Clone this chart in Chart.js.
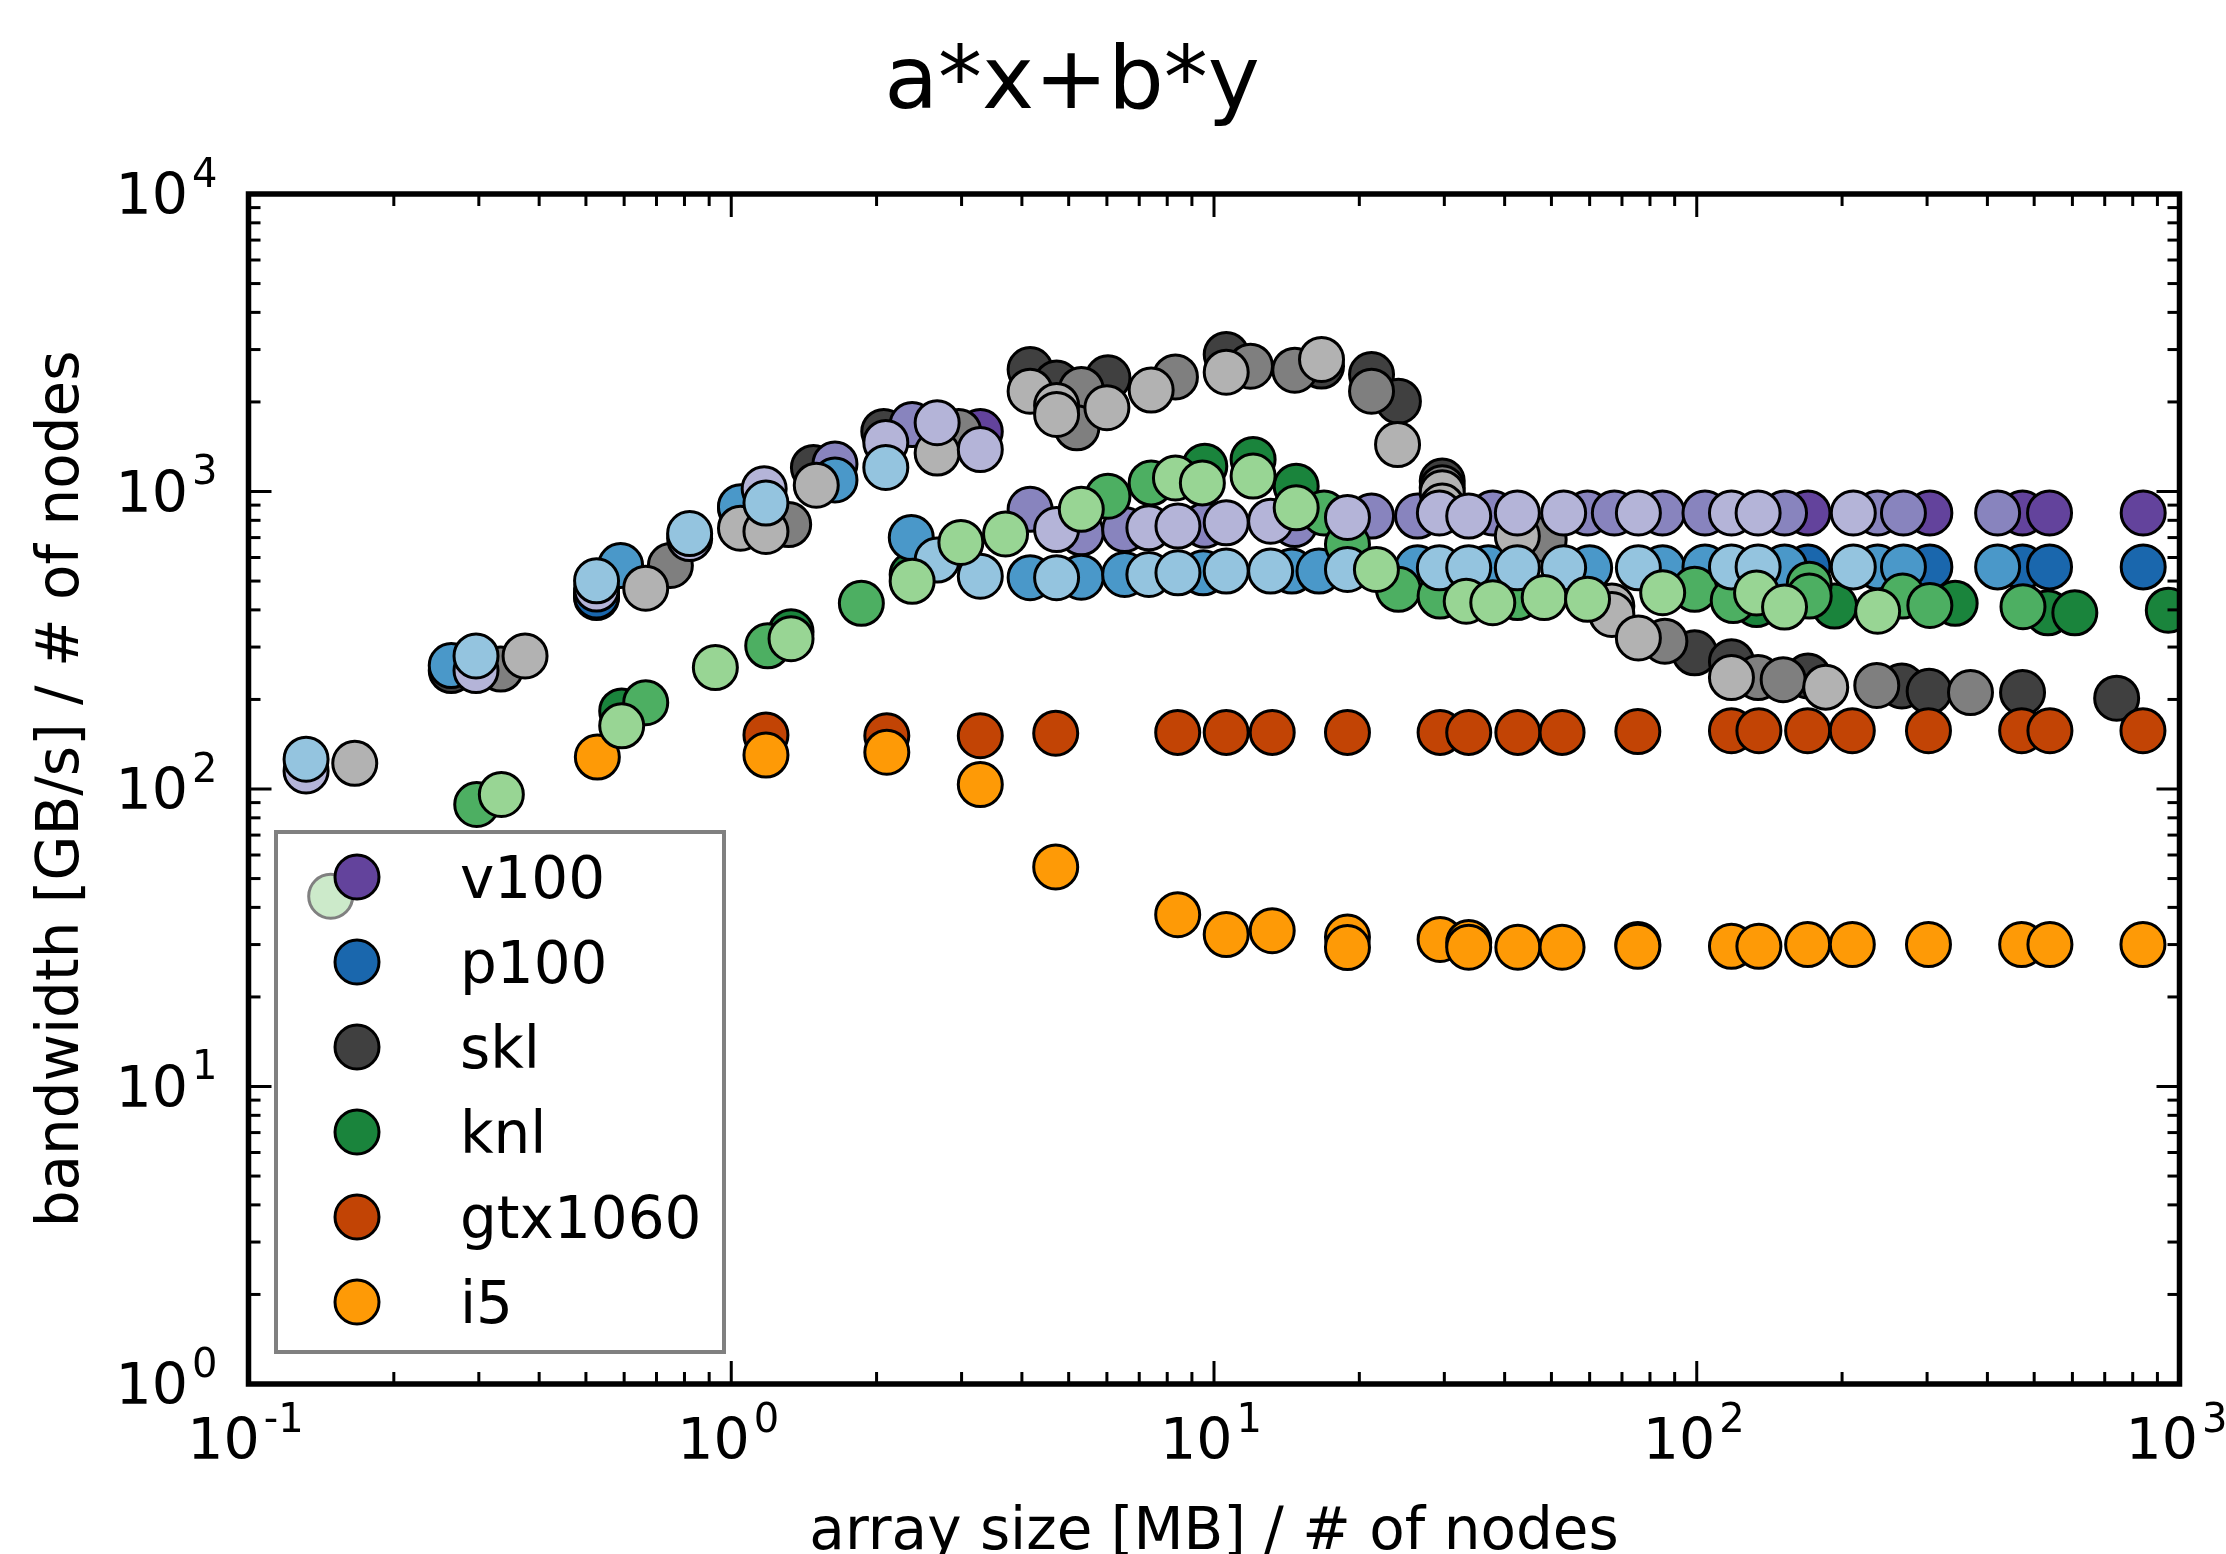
<!DOCTYPE html>
<html>
<head>
<meta charset="utf-8">
<script src="https://cdn.jsdelivr.net/npm/chart.js@4.4.1/dist/chart.umd.min.js"></script>
<style>
  html, body { margin: 0; padding: 0; background: #fff; }
  canvas { display: block; }
</style>
</head>
<body>
<canvas id="chart" width="2226" height="1554"></canvas>
<script>
// values: x = array size [MB] / # of nodes, y = bandwidth [GB/s] / # of nodes
const devices = ['v100', 'p100', 'skl', 'knl', 'gtx1060', 'i5'];
const xTickExps = [-1, 0, 1, 2, 3];
const yTickExps = [0, 1, 2, 3, 4];

const v100DarkX = [0.526, 3.28, 170, 304, 473, 538, 841];
const v100DarkY = [455, 1590, 847, 847, 847, 847, 847];
const v100MedX = [1.045, 1.64, 2.37, 4.16, 5.31, 6.53, 9.57, 14.7, 21.2, 26.4, 37.8, 59.4, 67.5, 84.9, 104, 152, 237, 268, 420];
const v100MedY = [880, 1238, 1679, 871, 726, 745, 770, 774, 827, 827, 847, 847, 847, 847, 847, 847, 847, 847, 847];
const v100LightX = [0.1316, 0.296, 0.526, 0.82, 1.17, 2.09, 2.67, 3.28, 4.72, 7.33, 8.42, 10.6, 13.1, 18.9, 29.3, 33.7, 42.5, 53.0, 75.7, 118, 134, 211];
const v100LightY = [115, 250, 470, 695, 1021, 1462, 1703, 1384, 745, 755, 765, 785, 795, 818, 847, 827, 847, 847, 847, 847, 847, 847];

const p100DarkX = [0.526, 170, 304, 473, 538, 841];
const p100DarkY = [445, 558, 558, 558, 558, 558];
const p100MedX = [0.263, 0.59, 1.045, 1.64, 2.36, 4.16, 5.31, 6.53, 9.5, 14.5, 16.5, 26.4, 37, 60, 85, 104, 152, 237, 268, 420];
const p100MedY = [260, 564, 889, 1094, 700, 513, 515, 526, 533, 540, 540, 554, 554, 554, 554, 558, 558, 558, 558, 558];
const p100LightX = [0.1316, 0.296, 0.526, 0.82, 1.18, 2.09, 2.67, 3.28, 4.72, 7.33, 8.42, 10.6, 13.1, 18.9, 29.3, 33.7, 42.5, 53, 75.7, 118, 134, 211];
const p100LightY = [126, 280, 501, 722, 914, 1205, 588, 519, 513, 526, 533, 540, 540, 547, 554, 554, 554, 554, 554, 558, 558, 558];

const sklDarkX = [0.263, 0.526, 1.48, 2.07, 4.16, 4.72, 6.03, 10.6, 16.7, 21.2, 24.1, 29.7, 42.5, 99, 118, 170, 266, 303, 473, 741];
const sklDarkY = [250, 440, 1205, 1592, 2570, 2317, 2411, 2889, 2640, 2472, 2012, 1084, 766, 287, 268, 240, 222, 213, 211, 202];
const sklMedX = [0.333, 0.748, 1.315, 2.96, 5.31, 5.2, 8.32, 11.9, 14.7, 21.2, 29.7, 48.3, 85.9, 134, 151, 236, 369];
const sklMedY = [253, 564, 774, 1592, 2203, 1637, 2428, 2637, 2557, 2173, 1030, 690, 314, 237, 233, 223, 211];
const sklLightX = [0.166, 0.374, 0.665, 1.045, 1.18, 1.50, 2.67, 4.16, 4.72, 4.72, 6.0, 7.41, 10.6, 16.7, 24.0, 29.7, 29.7, 42.5, 66.7, 66.7, 75.7, 118, 185];
const sklLightY = [122, 280, 473, 753, 734, 1050, 1346, 2173, 1946, 1816, 1912, 2193, 2518, 2778, 1438, 991, 893, 708, 412, 386, 322, 237, 220];

const knlDarkX = [0.593, 1.33, 2.37, 9.57, 12.05, 14.8, 133, 193, 343, 534, 607, 948];
const knlDarkY = [183, 338, 526, 1217, 1282, 1042, 417, 412, 421, 391, 391, 399];
const knlMedX = [0.297, 0.665, 1.19, 1.86, 6.03, 7.41, 16.9, 18.9, 24.1, 29.4, 42.5, 99, 119, 171, 171, 267, 304, 474];
const knlMedY = [88.7, 195, 303, 421, 964, 1069, 847, 663, 469, 445, 440, 469, 430, 488, 445, 445, 414, 410];
const knlLightX = [0.148, 0.334, 0.593, 0.927, 1.33, 2.37, 2.99, 3.7, 5.31, 8.32, 9.46, 12.05, 14.8, 21.7, 33.3, 37.8, 48.3, 59.4, 85, 133, 152, 237];
const knlLightY = [43.6, 95.9, 163, 256, 320, 499, 674, 720, 871, 1111, 1069, 1127, 881, 547, 428, 423, 440, 434, 457, 456, 409, 396];

const gtxX = [1.18, 2.10, 3.28, 4.70, 8.41, 10.6, 13.2, 18.9, 29.4, 33.7, 42.6, 52.6, 75.5, 118, 134.5, 169.7, 210, 302, 471, 539, 840];
const gtxY = [152, 151, 151, 154, 155, 155, 155, 155, 155, 155, 155, 155, 156, 157, 157, 157, 157, 157, 157, 157, 157];

const i5X = [0.528, 1.18, 2.10, 3.28, 4.70, 8.41, 10.6, 13.2, 18.9, 18.9, 29.4, 33.7, 33.7, 42.6, 52.6, 75.5, 75.5, 118, 134.5, 169.7, 210, 302, 471, 539, 840];
const i5Y = [128, 130, 133, 103.5, 54.7, 37.8, 32.4, 33.4, 31.8, 29.3, 31.2, 30.5, 29.4, 29.4, 29.4, 30.0, 29.6, 29.6, 29.6, 30, 30, 30, 30, 30, 30];

// colours (dark, medium, light) per device
const colors = {
    v100: ['#63439c', '#8884be', '#b4b4d8'],
    p100: ['#1a67ad', '#4a98c9', '#94c4df'],
    skl: ['#404040', '#7f7f7f', '#b2b2b2'],
    knl: ['#1a843c', '#4daf62', '#98d594'],
    gtx1060: ['#c24405'],
    i5: ['#fe9a06']
};

// drawing order: dark layer first, light layer last (on top)
const layers = [
    ['skl', 0, sklDarkX, sklDarkY], ['v100', 0, v100DarkX, v100DarkY], ['p100', 0, p100DarkX, p100DarkY],
    ['knl', 0, knlDarkX, knlDarkY], ['gtx1060', 0, gtxX, gtxY], ['i5', 0, i5X, i5Y],
    ['skl', 1, sklMedX, sklMedY], ['v100', 1, v100MedX, v100MedY], ['p100', 1, p100MedX, p100MedY], ['knl', 1, knlMedX, knlMedY],
    ['skl', 2, sklLightX, sklLightY], ['v100', 2, v100LightX, v100LightY], ['p100', 2, p100LightX, p100LightY], ['knl', 2, knlLightX, knlLightY]
];

const datasets = layers.map((l, i) => ({
    label: l[0],
    data: l[2].map((x, j) => ({x: x, y: l[3][j]})),
    backgroundColor: colors[l[0]][l[1]],
    borderColor: '#000',
    borderWidth: 3,
    pointRadius: 22,
    pointHoverRadius: 22,
    clip: 0,
    order: -i
}));

const FONT = '"DejaVu Sans", sans-serif';

function line(ctx, x1, y1, x2, y2) {
    ctx.beginPath();
    ctx.moveTo(x1, y1);
    ctx.lineTo(x2, y2);
    ctx.stroke();
}

function expLabel(e) {
    return e < 0 ? '-' + (-e) : String(e);
}

const mplDecor = {
    id: 'mplDecor',
    afterDraw(chart) {
        const ctx = chart.ctx;
        const a = chart.chartArea;
        const sx = chart.scales.x, sy = chart.scales.y;
        ctx.save();

        // inward ticks on all four sides
        ctx.strokeStyle = '#000';
        ctx.lineWidth = 3;
        xTickExps.forEach((e, n) => {
            for (let k = 1; k < 10; k++) {
                if (n === xTickExps.length - 1 && k > 1) break;
                const px = sx.getPixelForValue(k * Math.pow(10, e));
                const len = k === 1 ? 23 : 12;
                line(ctx, px, a.bottom, px, a.bottom - len);
                line(ctx, px, a.top, px, a.top + len);
            }
        });
        yTickExps.forEach((e, n) => {
            for (let k = 1; k < 10; k++) {
                if (n === yTickExps.length - 1 && k > 1) break;
                const py = sy.getPixelForValue(k * Math.pow(10, e));
                const len = k === 1 ? 23 : 12;
                line(ctx, a.left, py, a.left + len, py);
                line(ctx, a.right, py, a.right - len, py);
            }
        });

        // axes box
        ctx.lineWidth = 5.5;
        ctx.strokeRect(a.left, a.top, a.right - a.left, a.bottom - a.top);

        // tick labels 10^n
        ctx.fillStyle = '#000';
        ctx.textBaseline = 'alphabetic';
        ctx.textAlign = 'left';
        const mainFont = '57px ' + FONT, supFont = '40px ' + FONT;
        xTickExps.forEach((e) => {
            const px = sx.getPixelForValue(Math.pow(10, e));
            ctx.font = mainFont;
            const wm = ctx.measureText('10').width;
            ctx.font = supFont;
            const we = ctx.measureText(expLabel(e)).width;
            const x0 = px - (wm + 4 + we) / 2 - 3;
            ctx.font = mainFont;
            ctx.fillText('10', x0, a.bottom + 75);
            ctx.font = supFont;
            ctx.fillText(expLabel(e), x0 + wm + 4, a.bottom + 48);
        });
        yTickExps.forEach((e) => {
            const py = sy.getPixelForValue(Math.pow(10, e));
            ctx.font = supFont;
            const we = ctx.measureText(expLabel(e)).width;
            const expLeft = a.left - 31 - we;
            ctx.fillText(expLabel(e), expLeft, py - 7.5);
            ctx.font = mainFont;
            ctx.textAlign = 'right';
            ctx.fillText('10', expLeft - 4, py + 20);
            ctx.textAlign = 'left';
        });

        // axis titles and chart title
        ctx.font = '58px ' + FONT;
        ctx.textAlign = 'center';
        ctx.fillText('array size [MB] / # of nodes', (a.left + a.right) / 2, 1549);
        ctx.save();
        ctx.translate(78, (a.top + a.bottom) / 2);
        ctx.rotate(-Math.PI / 2);
        ctx.fillText('bandwidth [GB/s] / # of nodes', 0, 0);
        ctx.restore();
        ctx.font = '88px ' + FONT;
        ctx.fillText('a*x+b*y', 1072, 108);

        // legend box, lower left inside the axes
        ctx.fillStyle = 'rgba(255,255,255,0.5)';
        ctx.fillRect(276, 832, 448, 520);
        ctx.strokeStyle = '#808080';
        ctx.lineWidth = 4;
        ctx.strokeRect(276, 832, 448, 520);
        ctx.textAlign = 'left';
        ctx.font = '58px ' + FONT;
        devices.forEach((d, i) => {
            const cy = 877 + i * 85;
            ctx.beginPath();
            ctx.arc(357, cy, 22, 0, Math.PI * 2);
            ctx.fillStyle = colors[d][0];
            ctx.fill();
            ctx.strokeStyle = '#000';
            ctx.lineWidth = 3;
            ctx.stroke();
            ctx.fillStyle = '#000';
            ctx.fillText(d, 460, cy + 21);
        });

        ctx.restore();
    }
};

new Chart(document.getElementById('chart').getContext('2d'), {
    type: 'scatter',
    data: { datasets: datasets },
    options: {
        responsive: false,
        animation: false,
        devicePixelRatio: 1,
        events: [],
        layout: { padding: { left: 248.5, right: 46.5, top: 194, bottom: 170 } },
        plugins: {
            legend: { display: false },
            title: { display: false },
            tooltip: { enabled: false }
        },
        scales: {
            x: { type: 'logarithmic', min: 0.1, max: 1000, display: false },
            y: { type: 'logarithmic', min: 1, max: 10000, display: false }
        }
    },
    plugins: [mplDecor]
});
</script>
</body>
</html>
